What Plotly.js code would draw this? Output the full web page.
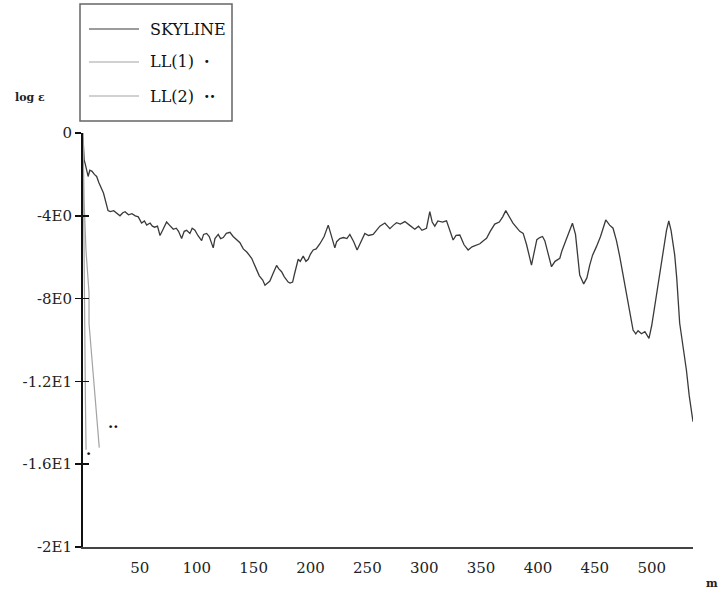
<!DOCTYPE html>
<html>
<head>
<meta charset="utf-8">
<script src="https://cdn.plot.ly/plotly-3.0.1.min.js"></script>
<style>html,body{margin:0;padding:0;background:#fff;}#chart{width:723px;height:599px;}</style>
</head>
<body>
<div id="chart"></div>
<script>
// ---- data ----
const skylineX = [
  0, 0.5, 1, 2, 3, 4.5, 6, 8, 10, 12,
  14, 18, 22, 24, 27, 30, 32.5, 35, 37, 40,
  43, 46, 48.6, 51.5, 54, 56, 59, 61, 63, 65.5,
  67.7, 70, 73.5, 76, 79.4, 82, 84, 86.7, 89, 91.1,
  94, 96, 98.4, 101, 104.3, 106, 108.7, 111, 114.5, 116,
  118.9, 121, 123.3, 126, 129.2, 132, 135.1, 138, 140.9, 144,
  148.3, 150, 152.6, 155, 158, 160, 162, 164.3, 167, 170.2,
  172, 174.6, 177, 180.4, 182, 184.3, 186, 189.2, 191, 193.6,
  196, 198, 200, 202.4, 205, 208.3, 212, 215.6, 218, 221.4,
  223, 225.8, 229, 232, 234.6, 238, 241, 244, 247.8, 251,
  255.1, 258, 261, 265.4, 269.8, 273, 275.7, 279, 283, 287,
  291.7, 295, 298, 302, 304.9, 307, 309.3, 312, 316, 319.6,
  322, 325.4, 328, 331.3, 335, 338.6, 342, 345, 348.9, 352,
  354.8, 358, 362, 366, 369, 371.7, 375, 378, 381.1, 384,
  387, 390, 394.3, 397, 399, 401.6, 404, 406, 409, 411.9,
  415, 419.2, 421, 423.6, 427, 430.3, 433, 436.7, 440.2, 443,
  445.5, 448, 451.4, 455, 459.6, 463, 466, 469, 471.9, 475,
  477.8, 481, 483.6, 486, 488, 491, 494, 497.6, 500, 502.6,
  506, 510, 513, 515, 517, 520.2, 522, 524.6, 527, 530.5,
  533, 536.3
];
const skylineY = [
  -0.2, -0.8, -1.3, -1.5, -1.7, -2.1, -1.8, -1.85, -2.0, -2.1,
  -2.4, -2.9, -3.75, -3.8, -3.75, -3.9, -4.0, -3.85, -3.8, -3.95,
  -3.9, -4.0, -4.05, -4.35, -4.25, -4.45, -4.35, -4.5, -4.55, -4.5,
  -4.95, -4.7, -4.3, -4.45, -4.65, -4.6, -4.75, -5.1, -4.75, -4.7,
  -4.85, -4.6, -4.7, -4.95, -5.2, -4.9, -4.85, -5.0, -5.55, -5.1,
  -4.9, -5.1, -5.05, -4.85, -4.8, -5.0, -5.15, -5.3, -5.6, -5.75,
  -6.05, -6.3, -6.6, -6.9, -7.1, -7.35, -7.25, -7.15, -6.8, -6.4,
  -6.55, -6.7, -6.95, -7.2, -7.25, -7.2, -6.8, -6.1, -6.2, -5.95,
  -6.2, -6.1, -5.85, -5.65, -5.6, -5.35, -5.0, -4.45, -4.9, -5.55,
  -5.25, -5.1, -5.05, -5.1, -4.9, -5.25, -5.65, -5.3, -4.85, -4.95,
  -4.9, -4.7, -4.5, -4.35, -4.62, -4.45, -4.33, -4.4, -4.28, -4.45,
  -4.65, -4.5, -4.7, -4.6, -3.8, -4.3, -4.5, -4.25, -4.3, -4.24,
  -4.6, -5.17, -4.95, -4.93, -5.4, -5.65, -5.5, -5.45, -5.35, -5.2,
  -5.09, -4.75, -4.4, -4.3, -4.05, -3.75, -4.1, -4.35, -4.56, -4.75,
  -4.85, -5.4, -6.38, -5.6, -5.15, -5.05, -5.0, -5.2, -5.8, -6.46,
  -6.2, -6.05, -5.7, -5.33, -4.9, -4.36, -4.9, -6.86, -7.29, -7.0,
  -6.38, -5.9, -5.49, -5.0, -4.2, -4.45, -4.6, -5.2, -5.97, -6.9,
  -7.75, -8.7, -9.52, -9.7, -9.55, -9.7, -9.6, -9.92, -9.3, -8.39,
  -7.2, -5.65, -4.7, -4.25, -4.7, -5.89, -7.0, -9.19, -10.1, -11.45,
  -12.7, -13.95
];
const ll1X = [0, 0.4, 0.9, 1.5, 2.1, 2.7];
const ll1Y = [0, -3.0, -6.5, -9.8, -12.8, -15.3];
const ll2X = [0, 0.9, 2.6, 5.3, 5.3, 8.5, 11.4, 14.3];
const ll2Y = [0, -3.2, -5.65, -7.73, -9.2, -11.3, -12.9, -15.2];
const seriesNames = ['SKYLINE', 'LL(1)', 'LL(2)'];
const seriesMarks = ['', '·', '··'];
const yTickVals = [0, -4, -8, -12, -16, -20];
const yTickText = ['0', '-4E0', '-8E0', '-1.2E1', '-1.6E1', '-2E1'];
const xTickVals = [50, 100, 150, 200, 250, 300, 350, 400, 450, 500];
const xTickText = ['50', '100', '150', '200', '250', '300', '350', '400', '450', '500'];

// ---- styling ----
const FONT = 'DejaVu Serif, Liberation Serif, serif';
const skyColor = '#3a3a3a';
const llColor = '#a3a3a3';

const traces = [
  {x: skylineX, y: skylineY, mode: 'lines', name: seriesNames[0],
   line: {color: skyColor, width: 1.3}, showlegend: false, hoverinfo: 'skip'},
  {x: ll1X, y: ll1Y, mode: 'lines', name: seriesNames[1], yaxis: 'y2',
   line: {color: llColor, width: 1.2}, showlegend: false, hoverinfo: 'skip'},
  {x: ll2X, y: ll2Y, mode: 'lines', name: seriesNames[2],
   line: {color: llColor, width: 1.2}, showlegend: false, hoverinfo: 'skip'}
];

// legend box geometry (pixels -> paper)
const L = 83, T = 133, PW = 610, PH = 414, H = 599;
const px = v => (v - L) / PW;
const py = v => (H - 52 - v) / PH;
const rowY = [29, 62, 96];

const shapes = [
  {type: 'rect', xref: 'paper', yref: 'paper', x0: px(80), x1: px(232), y0: py(121), y1: py(4),
   line: {color: '#666', width: 1.5}, fillcolor: 'rgba(0,0,0,0)'}
];
const annotations = [];
const legendColors = [skyColor, llColor, llColor];
seriesNames.forEach((n, i) => {
  shapes.push({type: 'line', xref: 'paper', yref: 'paper', x0: px(89), x1: px(139),
    y0: py(rowY[i]), y1: py(rowY[i]), line: {color: legendColors[i], width: 1.2}});
  annotations.push({xref: 'paper', yref: 'paper', x: px(148), y: py(rowY[i]),
    xanchor: 'left', yanchor: 'middle', showarrow: false,
    text: n + (seriesMarks[i] ? '  <b>' + seriesMarks[i] + '</b>' : ''),
    font: {family: FONT, size: 16, color: '#111'}});
});
annotations.push({xref: 'paper', yref: 'paper', x: px(30), y: py(97), xanchor: 'center', yanchor: 'middle',
  showarrow: false, text: '<b>log ε</b>', font: {family: FONT, size: 11, color: '#222'}});
annotations.push({xref: 'paper', yref: 'paper', x: px(712), y: py(583), xanchor: 'center', yanchor: 'middle',
  showarrow: false, text: '<b>m</b>', font: {family: FONT, size: 11, color: '#222'}});
// curve end labels
annotations.push({x: ll1X[ll1X.length - 1] + 1.7, y: ll1Y[ll1Y.length - 1] - 0.2, xanchor: 'center', yanchor: 'middle',
  showarrow: false, text: '<b>·</b>', font: {family: FONT, size: 15, color: '#111'}});
annotations.push({x: ll2X[ll2X.length - 1] + 12.5, y: ll2Y[ll2Y.length - 1] + 1.0, xanchor: 'center', yanchor: 'middle',
  showarrow: false, text: '<b>··</b>', font: {family: FONT, size: 15, color: '#111'}});

const layout = {
  width: 723, height: 599,
  margin: {l: L, r: 30, t: T, b: 52, pad: 0},
  paper_bgcolor: '#fff', plot_bgcolor: '#fff',
  showlegend: false,
  xaxis: {
    range: [0, 536.3], tickvals: xTickVals, ticktext: xTickText, ticks: '',
    showgrid: false, zeroline: false, showline: true, linecolor: '#444', linewidth: 2,
    tickfont: {family: FONT, size: 15, color: '#222'}, ticklabelstandoff: 6
  },
  yaxis: {
    range: [-20, 0], tickvals: yTickVals, ticktext: yTickText,
    ticks: 'outside', ticklen: 6, tickwidth: 1.5, tickcolor: '#111',
    showgrid: false, zeroline: false, showline: true, linecolor: '#111', linewidth: 2,
    tickfont: {family: FONT, size: 15, color: '#222'}
  },
  yaxis2: {
    range: [-20, 0], overlaying: 'y', side: 'left', anchor: 'x', tickvals: yTickVals,
    ticks: 'inside', ticklen: 6, tickwidth: 1.5, tickcolor: '#111',
    showticklabels: false, showgrid: false, zeroline: false, showline: false
  },
  shapes: shapes,
  annotations: annotations
};

Plotly.newPlot('chart', traces, layout, {displayModeBar: false, staticPlot: true});
</script>
</body>
</html>
